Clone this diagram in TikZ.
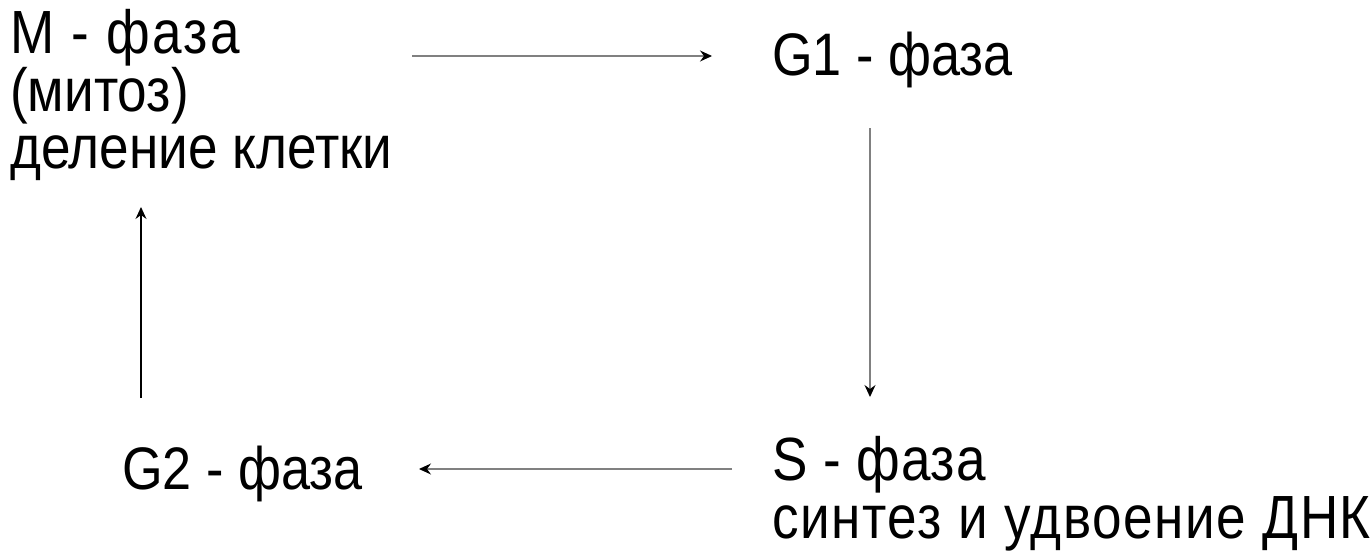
\documentclass[tikz,border=0pt]{standalone}
\usepackage{fontspec}
\setmainfont{Liberation Sans}[FakeStretch=0.87]
\usetikzlibrary{arrows.meta}
\begin{document}
\begin{tikzpicture}[x=1pt,y=-1pt,
  lbl/.style={inner sep=0pt,anchor=base west,font=\fontsize{61}{58}\selectfont},
  conn/.style={draw=black!50,line width=1.2pt,-{Stealth[length=12pt,width=11pt,inset=4pt,black]}},
  connb/.style={conn,draw=black}]
\useasboundingbox (0,0) rectangle (1370,552);
\node[lbl] (m1) at (10,53) {\addfontfeatures{LetterSpace=4}M - фаза};
\node[lbl] (m2) at (10,111) {(митоз)};
\node[lbl] (m3) at (10,168) {деление клетки};
\node[lbl,font=\fontsize{60}{58}\selectfont] (g1) at (772,75) {G1 - фаза};
\node[lbl] (s1) at (772,480) {\addfontfeatures{LetterSpace=1.5}S - фаза};
\node[lbl] (s2) at (772,538) {\addfontfeatures{LetterSpace=2.6}синтез и удвоение ДНК};
\node[lbl,font=\fontsize{60}{58}\selectfont] (g2) at (122,489) {G2 - фаза};
\coordinate (a1s) at (412,56); \coordinate (a1e) at (712,56);
\coordinate (a2s) at (870,128); \coordinate (a2e) at (870,397);
\coordinate (a3s) at (732,469); \coordinate (a3e) at (419,469);
\coordinate (a4s) at (141,398); \coordinate (a4e) at (141,207);
\draw[conn] (a1s) -- (a1e);
\draw[conn] (a2s) -- (a2e);
\draw[conn] (a3s) -- (a3e);
\draw[connb] (a4s) -- (a4e);
\end{tikzpicture}
\end{document}
